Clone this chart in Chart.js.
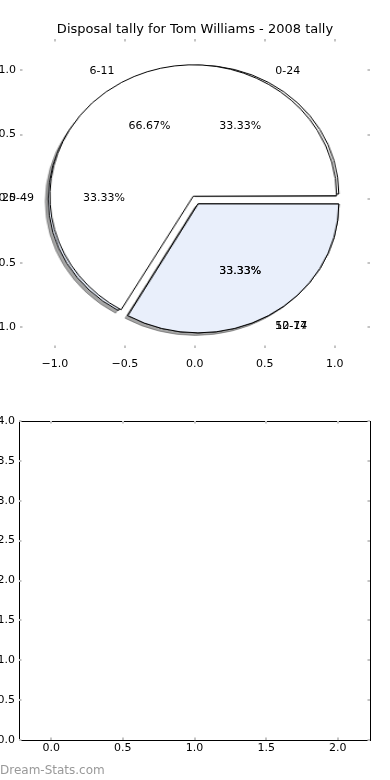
<!DOCTYPE html>
<html>
<head>
<meta charset="utf-8">
<title>Disposal tally</title>
<script src="https://cdn.jsdelivr.net/npm/chart.js@4.4.0/dist/chart.umd.min.js"></script>
<style>
  html, body { margin: 0; padding: 0; background: #fff; }
  #page { position: relative; width: 390px; height: 780px; overflow: hidden; }
  .layer { position: absolute; }
  #watermark { position: absolute; left: 0; top: 763px; font: 12px 'DejaVu Sans', sans-serif; color: #999; }
</style>
</head>
<body>
<div id="page">
  <div id="pieWrapA" class="layer"><canvas id="pieA" width="300" height="300"></canvas></div>
  <div id="pieWrapB" class="layer"><canvas id="pieB" width="300" height="300"></canvas></div>
  <canvas id="topAxes" class="layer" style="left:0;top:0" width="390" height="390"></canvas>
  <canvas id="bottomAxes" class="layer" style="left:0;top:390px" width="390" height="370"></canvas>
  <div id="watermark">Dream-Stats.com</div>
</div>
<script>
// first pie, drawn underneath
const bandLabels = ['0-24', '25-49', '50-74'];
const bandValues = [1, 1, 1];
const bandColors = ['#ffffff', '#e9effb', '#ffffff'];

// second pie, drawn on top
const ageLabels = ['6-11', '12-17'];
const ageValues = [2, 1];
const ageColors = ['#ffffff', '#e9effb'];

const explode = 0.05;
const titleText = 'Disposal tally for Tom Williams - 2008 tally';

const tickFont = { family: 'DejaVu Sans', size: 11 };
const fmt = v => v.toFixed(1).replace('-', '\u2212');

// little grey inward ticks on all four sides
const tickMarks = {
    id: 'tickMarks',
    afterDraw(chart) {
        const { ctx, chartArea: a } = chart;
        const x = chart.scales.x, y = chart.scales.y;
        ctx.save();
        ctx.strokeStyle = '#c4c4c4';
        ctx.lineWidth = 2;
        ctx.beginPath();
        x.ticks.forEach(t => {
            const px = Math.round(x.getPixelForValue(t.value));
            ctx.moveTo(px, a.top); ctx.lineTo(px, a.top + 2.5);
            ctx.moveTo(px, a.bottom); ctx.lineTo(px, a.bottom - 2.5);
        });
        y.ticks.forEach(t => {
            const py = Math.round(y.getPixelForValue(t.value));
            ctx.moveTo(a.left, py); ctx.lineTo(a.left + 2.5, py);
            ctx.moveTo(a.right, py); ctx.lineTo(a.right - 2.5, py);
        });
        ctx.stroke();
        ctx.restore();
    }
};

// black box round the lower axes
const frame = {
    id: 'frame',
    afterDraw(chart) {
        const { ctx, chartArea: a } = chart;
        ctx.save();
        ctx.strokeStyle = '#000';
        ctx.lineWidth = 1;
        ctx.strokeRect(Math.round(a.left) + 0.5, Math.round(a.top) + 0.5,
            Math.round(a.right - a.left), Math.round(a.bottom - a.top));
        ctx.restore();
    }
};

// wedge labels and percentages, placed like matplotlib does it
function drawPieText(ctx, xs, ys, values, labels) {
    const total = values.reduce((s, v) => s + v, 0);
    let start = 0;
    values.forEach((v, i) => {
        const frac = v / total;
        const mid = (start + frac / 2) * 2 * Math.PI;
        start += frac;
        const ox = explode * Math.cos(mid), oy = explode * Math.sin(mid);
        const lx = ox + 1.1 * Math.cos(mid), ly = oy + 1.1 * Math.sin(mid);
        ctx.textAlign = lx > 0 ? 'left' : 'right';
        ctx.fillText(labels[i], xs.getPixelForValue(lx), ys.getPixelForValue(ly));
        const px = ox + 0.6 * Math.cos(mid), py = oy + 0.6 * Math.sin(mid);
        ctx.textAlign = 'center';
        ctx.fillText((frac * 100).toFixed(2) + '%', xs.getPixelForValue(px), ys.getPixelForValue(py));
    });
}

const pieText = {
    id: 'pieText',
    afterDraw(chart) {
        const ctx = chart.ctx;
        ctx.save();
        ctx.fillStyle = '#000';
        ctx.font = '11px "DejaVu Sans"';
        ctx.textBaseline = 'middle';
        drawPieText(ctx, chart.scales.x, chart.scales.y, bandValues, bandLabels);
        drawPieText(ctx, chart.scales.x, chart.scales.y, ageValues, ageLabels);
        ctx.restore();
    }
};

function axisOptions(min, max, size, pad, isY) {
    return {
        type: 'linear',
        min: min,
        max: max,
        grid: { display: false, drawTicks: false },
        border: { display: false },
        ticks: { stepSize: 0.5, includeBounds: false, padding: pad, color: '#000', font: tickFont, callback: fmt },
        afterFit: s => { if (isY) { s.width = size; } else { s.height = size; } }
    };
}

// top axes: holds the pie, its ticks and texts
const topChart = new Chart(document.getElementById('topAxes'), {
    type: 'scatter',
    data: { datasets: [{ data: [] }] },
    options: {
        responsive: false,
        animation: false,
        events: [],
        layout: { padding: 0 },
        plugins: {
            legend: { display: false },
            tooltip: { enabled: false },
            title: {
                display: true,
                text: titleText,
                color: '#000',
                font: { family: 'DejaVu Sans', size: 13, weight: 'normal', lineHeight: 1.0 },
                padding: { top: 23.5, bottom: 2.5 }
            }
        },
        scales: {
            x: axisOptions(-1.25, 1.252, 42, 10, false),
            y: axisOptions(-1.165, 1.245, 20, 4, true),
            // empty strip on the right so the title centres on the whole figure
            yRight: {
                type: 'linear',
                position: 'right',
                grid: { display: false, drawTicks: false },
                border: { display: false },
                ticks: { display: false },
                afterFit: s => { s.width = 20; }
            }
        }
    },
    plugins: [tickMarks, pieText]
});

// lower, empty axes
new Chart(document.getElementById('bottomAxes'), {
    type: 'scatter',
    data: { datasets: [{ data: [] }] },
    options: {
        responsive: false,
        animation: false,
        events: [],
        layout: { padding: { left: 0, right: 20, top: 31, bottom: 0 } },
        plugins: { legend: { display: false }, tooltip: { enabled: false } },
        scales: {
            x: axisOptions(-0.225, 2.225, 20, 1.5, false),
            y: axisOptions(0, 4, 19, 4, true)
        }
    },
    plugins: [frame, tickMarks]
});

// pie geometry taken from the top axes scales
const xs = topChart.scales.x, ys = topChart.scales.y;
const cx = xs.getPixelForValue(0), cy = ys.getPixelForValue(0);
const unitX = xs.getPixelForValue(1) - cx;
const unitY = cy - ys.getPixelForValue(1);
const stretch = unitX / unitY;

// Chart.js moves an arc by offset/4 * (2 - sin(min(PI, angle))), so undo that
function arcOffsets(values) {
    const total = values.reduce((s, v) => s + v, 0);
    return values.map(v => {
        const ang = v / total * 2 * Math.PI;
        return explode * unitY * 4 / (2 - Math.sin(Math.min(Math.PI, ang)));
    });
}

const wedgeShadow = {
    id: 'wedgeShadow',
    beforeDatasetsDraw(chart) {
        const c = chart.ctx;
        c.save();
        c.shadowColor = 'rgba(77, 77, 77, 0.5)';
        c.shadowOffsetX = -0.02 * unitX / stretch;
        c.shadowOffsetY = 0.02 * unitY;
        c.shadowBlur = 0;
    },
    afterDatasetsDraw(chart) {
        chart.ctx.restore();
    }
};

function makePie(wrapId, canvasId, values, labels, colors, extra) {
    const wrap = document.getElementById(wrapId);
    wrap.style.left = (cx - 150) + 'px';
    wrap.style.top = (cy - 150) + 'px';
    wrap.style.width = '300px';
    wrap.style.height = '300px';
    wrap.style.transformOrigin = '150px 150px';
    wrap.style.transform = 'scaleX(' + stretch + ')';
    // matplotlib goes anticlockwise from 3 o'clock, Chart.js clockwise: reverse
    return new Chart(document.getElementById(canvasId), {
        type: 'pie',
        data: {
            labels: labels.slice().reverse(),
            datasets: [{
                data: values.slice().reverse(),
                backgroundColor: colors.slice().reverse(),
                borderColor: '#000',
                borderWidth: 1,
                borderJoinStyle: 'miter',
                offset: arcOffsets(values).reverse()
            }]
        },
        options: {
            responsive: false,
            animation: false,
            events: [],
            radius: unitY,
            rotation: 90,
            layout: { padding: 0 },
            plugins: { legend: { display: false }, tooltip: { enabled: false } }
        },
        plugins: extra
    });
}

makePie('pieWrapA', 'pieA', bandValues, bandLabels, bandColors, [wedgeShadow]);
makePie('pieWrapB', 'pieB', ageValues, ageLabels, ageColors, []);
</script>
</body>
</html>
